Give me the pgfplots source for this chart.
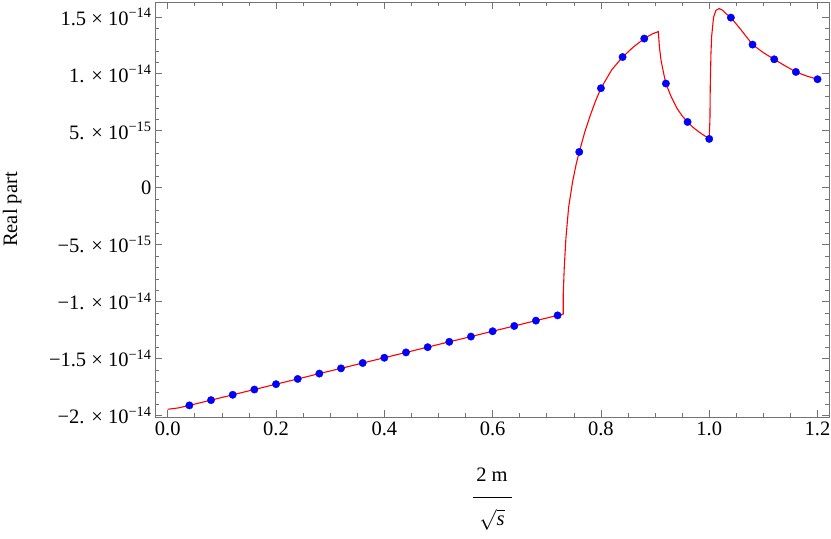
\documentclass[border=0pt]{standalone}
\usepackage{fontspec}
\setmainfont{Liberation Serif}
\usepackage{pgfplots}
\pgfplotsset{compat=1.18}

% y values are in units of 1e-15
\newcommand{\sci}[2]{#1 × 10\textsuperscript{#2}}
\newcommand{\bigfont}{\fontsize{20.5bp}{24.6bp}\selectfont}

\begin{document}
\begin{tikzpicture}[font=\bigfont]
\begin{axis}[
  scale only axis, width=674bp, height=415bp,
  xmin=-0.0235, xmax=1.2212, ymin=-20.13, ymax=16.3,
  axis line style={draw=black!55, line width=0.6bp},
  tick style={draw=black!55, line width=0.6bp},
  major tick length=7bp, minor tick length=4bp,
  tick align=inside,
  xtick pos=both, ytick pos=both,
  xticklabel pos=left, yticklabel pos=left,
  xtick={0,0.2,0.4,0.6,0.8,1.0,1.2},
  xticklabels={0.0,0.2,0.4,0.6,0.8,1.0,1.2},
  minor x tick num=3,
  ytick={-20,-15,-10,-5,0,5,10,15},
  yticklabels={\sci{−2.}{−14},\sci{−1.5}{−14},\sci{−1.}{−14},\sci{−5.}{−15},0,\sci{5.}{−15},\sci{1.}{−14},\sci{1.5}{−14}},
  minor y tick num=4,
  every tick label/.append style={font=\bigfont},
  every axis label/.append style={font=\bigfont},
  xticklabel style={yshift=-1bp},
  ylabel={Real part},
  ylabel style={at={(axis description cs:-0.212,0.5)}, anchor=center},
  xlabel={\begin{tabular}{@{}c@{}}2 m\\[-8.6bp]\rule{39bp}{0.8bp}\\[3.4bp]$\sqrt{\hbox{\bigfont\itshape s}}$\end{tabular}},
  xlabel style={at={(axis description cs:0.5,-0.105)}, anchor=north},
  clip=false,
]
\addplot[red, line width=1.1bp] coordinates {
(0,-19.45) (0.02,-19.33) (0.04,-19.11) (0.08,-18.65) (0.12,-18.18) (0.16,-17.72)
(0.20,-17.25) (0.24,-16.79) (0.28,-16.32) (0.32,-15.86) (0.36,-15.39) (0.40,-14.93)
(0.44,-14.46) (0.48,-14.00) (0.52,-13.53) (0.56,-13.07) (0.60,-12.60) (0.64,-12.14)
(0.68,-11.67) (0.72,-11.21) (0.7304,-11.09)
(0.7305,-9.25) (0.7323,-7.0) (0.7354,-4.4) (0.7404,-1.7) (0.7478,0.55) (0.754,2.0)
(0.76,3.14) (0.77,4.85) (0.78,6.3) (0.79,7.6)
(0.80,8.73) (0.82,10.35) (0.84,11.47) (0.86,12.35) (0.88,13.09) (0.895,13.5) (0.906,13.7)
(0.908,12.35) (0.911,11.18) (0.916,10.0) (0.92,9.14) (0.93,7.95) (0.94,7.0) (0.95,6.3)
(0.96,5.77) (0.97,5.3) (0.98,4.93) (0.99,4.6) (0.9998,4.3)
(1.0013,5.92) (1.0019,8.84) (1.0032,11.77) (1.0045,13.3) (1.008,14.95) (1.0124,15.57)
(1.0185,15.72) (1.0248,15.57) (1.031,15.28) (1.04,14.93) (1.057,13.96) (1.08,12.56) (1.10,11.85)
(1.12,11.27) (1.14,10.7) (1.16,10.16) (1.18,9.8) (1.20,9.52)
};
\addplot[only marks, mark=*, mark size=3.7bp, blue, mark options={draw=blue, fill=blue}] coordinates {
(0.04,-19.11) (0.08,-18.65) (0.12,-18.18) (0.16,-17.72) (0.20,-17.25) (0.24,-16.79)
(0.28,-16.32) (0.32,-15.86) (0.36,-15.39) (0.40,-14.93) (0.44,-14.46) (0.48,-14.00)
(0.52,-13.53) (0.56,-13.07) (0.60,-12.60) (0.64,-12.14) (0.68,-11.67) (0.72,-11.21)
(0.76,3.14) (0.80,8.73) (0.84,11.47) (0.88,13.09) (0.92,9.14) (0.96,5.77) (1.00,4.28)
(1.04,14.93) (1.08,12.56) (1.12,11.27) (1.16,10.16) (1.20,9.52)
};
\end{axis}
\pgfresetboundingbox
\path[use as bounding box] ([shift={(-155bp,-122bp)}]current axis.south west) rectangle ([shift={(2bp,2bp)}]current axis.north east);
\end{tikzpicture}
\end{document}
